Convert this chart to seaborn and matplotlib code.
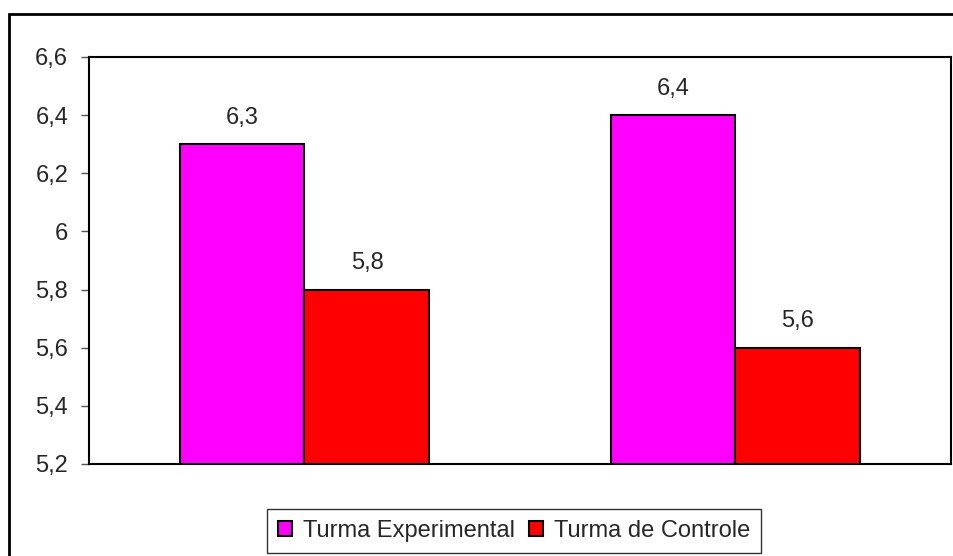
import pandas as pd
import seaborn as sns
from matplotlib import pyplot as plt
from matplotlib.patches import Rectangle

# dados do grafico
grupos = ['Grupo 1', 'Grupo 2']
turma_experimental = [6.3, 6.4]
turma_controle = [5.8, 5.6]
series = ['Turma Experimental', 'Turma de Controle']
cores = ['#FF00FF', '#FF0000']
y_ticks = [5.2, 5.4, 5.6, 5.8, 6.0, 6.2, 6.4, 6.6]

df = pd.DataFrame({
    'grupo': grupos * 2,
    'turma': [series[0]] * 2 + [series[1]] * 2,
    'nota': turma_experimental + turma_controle,
})

sns.set_style('white')
plt.rcParams['font.family'] = ['Liberation Sans', 'DejaVu Sans']


def fmt(v):
    # virgula como separador decimal
    s = f'{v:.1f}'.replace('.', ',')
    return s.replace(',0', '') if s.endswith(',0') else s


fig = plt.figure(figsize=(9.54, 5.56), dpi=100)
ax = fig.add_axes([89 / 954, 92 / 556, 862 / 954, 407 / 556])

sns.barplot(data=df, x='grupo', y='nota', hue='turma', palette=cores,
            width=0.58, edgecolor='black', linewidth=1.5, ax=ax,
            legend=True, saturation=1)

for cont in ax.containers:
    ax.bar_label(cont, labels=[fmt(v) for v in cont.datavalues],
                 padding=11, fontsize=17)

ax.set_ylim(5.2, 6.6)
ax.set_yticks(y_ticks)
ax.set_yticklabels([fmt(t) for t in y_ticks], fontsize=17)
ax.set_xticks([])
ax.set_xlabel('')
ax.set_ylabel('')
ax.tick_params(axis='y', left=True, length=6, width=1, color='#555555', pad=9)
for sp in ax.spines.values():
    sp.set_color('black')
    sp.set_linewidth(1.5)

handles, labels = ax.get_legend_handles_labels()
ax.get_legend().remove()
leg = fig.legend(handles, labels, loc='center', ncol=2,
                 bbox_to_anchor=(514 / 954, 25 / 556), fontsize=17,
                 frameon=True, fancybox=False, shadow=False,
                 handlelength=0.6, handleheight=0.6, handletextpad=0.45,
                 columnspacing=0.6, borderpad=0.45, borderaxespad=0)
leg.get_frame().set_edgecolor('black')
leg.get_frame().set_linewidth(1)

# borda externa da area do grafico
fig.patches.append(Rectangle((9 / 954, -0.02), 0.999, 1 - 14 / 556 + 0.02,
                             transform=fig.transFigure, fill=False,
                             edgecolor='black', linewidth=2, clip_on=False))

fig.savefig('out.png', dpi=100)
